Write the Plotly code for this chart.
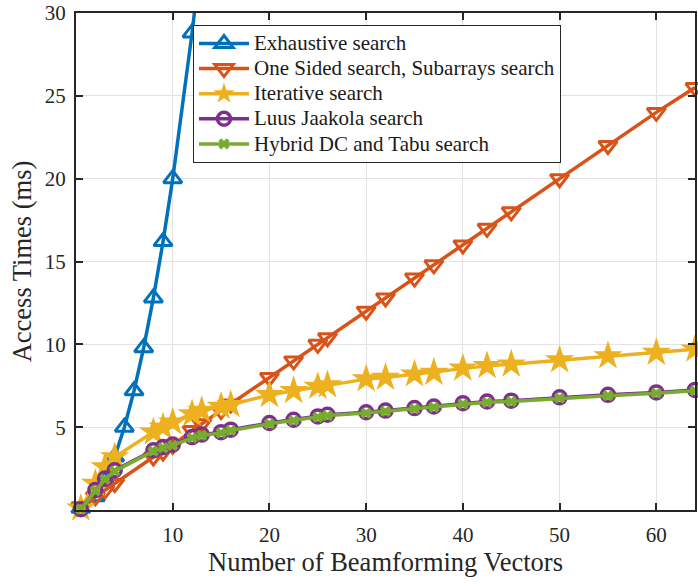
import plotly.graph_objects as go

# Number of beamforming vectors (x) and access times in ms (y) for each method
x_exhaustive = [0.5, 2, 3, 4, 5, 6, 7, 8, 9, 10, 12, 13]
t_exhaustive = [0.1, 0.8, 1.8, 3.2, 5.0, 7.2, 9.8, 12.8, 16.2, 20.0, 28.8, 33.8]

x_common = [0.5, 2, 3, 4, 8, 9, 10, 12, 13, 15, 16, 20, 22.5, 25, 26,
            30, 32, 35, 37, 40, 42.5, 45, 50, 55, 60, 64]
t_one_sided = [0.2, 0.8, 1.2, 1.6, 3.2, 3.5, 3.9, 4.8, 5.2, 6.0, 6.4, 8.0, 9.0, 10.0, 10.4,
               12.0, 12.8, 14.0, 14.8, 16.0, 17.0, 18.0, 20.0, 22.0, 24.0, 25.5]
t_iterative = [0.1, 1.6, 2.6, 3.2, 4.7, 5.0, 5.3, 5.8, 6.0, 6.25, 6.35, 6.95, 7.2, 7.45, 7.55,
               7.9, 8.0, 8.2, 8.3, 8.55, 8.7, 8.8, 9.05, 9.3, 9.5, 9.7]
t_luus = [0.05, 1.2, 1.9, 2.4, 3.6, 3.8, 3.95, 4.4, 4.55, 4.7, 4.85, 5.25, 5.45, 5.65, 5.75,
          5.9, 6.0, 6.15, 6.25, 6.45, 6.55, 6.6, 6.8, 6.95, 7.1, 7.25]
t_hybrid = [0.05, 1.15, 1.85, 2.35, 3.55, 3.75, 3.9, 4.35, 4.5, 4.65, 4.8, 5.2, 5.4, 5.6, 5.7,
            5.85, 5.95, 6.1, 6.2, 6.4, 6.5, 6.55, 6.75, 6.9, 7.05, 7.2]

x_ticks = [10, 20, 30, 40, 50, 60]
y_ticks = [5, 10, 15, 20, 25, 30]

FONT = "Liberation Serif, Times New Roman, serif"
INK = "#262626"

series = [
    ("Exhaustive search", x_exhaustive, t_exhaustive, "#0072BD",
     dict(symbol="triangle-up-open", size=16, line=dict(width=3))),
    ("One Sided search, Subarrays search", x_common, t_one_sided, "#D95319",
     dict(symbol="triangle-down-open", size=16, line=dict(width=3))),
    ("Iterative search", x_common, t_iterative, "#EDB120",
     dict(symbol="star", size=22, line=dict(width=0))),
    ("Luus Jaakola search", x_common, t_luus, "#7E2F8E",
     dict(symbol="circle-open", size=13, line=dict(width=3.5))),
    ("Hybrid DC and Tabu search", x_common, t_hybrid, "#77AC30",
     dict(symbol="x", size=10, line=dict(width=0))),
]

fig = go.Figure()
for name, xs, ys, color, marker in series:
    marker = dict(marker, color=color)
    fig.add_trace(go.Scatter(
        x=xs, y=ys, mode="lines+markers",
        name='<span style="font-size:21px">%s</span>' % name,
        line=dict(color=color, width=3.5),
        marker=marker,
        cliponaxis=False,
    ))

axis_common = dict(
    showline=True, linecolor=INK, linewidth=2, mirror="ticks",
    ticks="inside", ticklen=7, tickwidth=1.5, tickcolor=INK,
    showgrid=True, gridcolor="#e3e3e3", gridwidth=1,
    zeroline=False, ticklabeloverflow="allow", automargin=False,
    tickfont=dict(family=FONT, size=21, color=INK),
)

fig.update_layout(
    width=698, height=586,
    margin=dict(l=76, r=3, t=13, b=76, autoexpand=False),
    paper_bgcolor="white", plot_bgcolor="white",
    font=dict(family=FONT, color=INK),
    xaxis=dict(axis_common, range=[0, 64], tickvals=x_ticks,
               ticklabelstandoff=5,
               title=dict(text="Number of Beamforming Vectors",
                          font=dict(family=FONT, size=26.5, color=INK),
                          standoff=5)),
    yaxis=dict(axis_common, range=[0, 30], tickvals=y_ticks,
               ticklabelstandoff=4,
               title=dict(text="Access Times (ms)",
                          font=dict(family=FONT, size=26.5, color=INK),
                          standoff=6)),
    legend=dict(
        x=0.189, y=0.976, xanchor="left", yanchor="top",
        bgcolor="white", bordercolor=INK, borderwidth=1,
        font=dict(family=FONT, size=17, color="#1a1a1a"),
        itemwidth=50, tracegroupgap=0,
    ),
    showlegend=True,
)

fig.write_html("out.html")
